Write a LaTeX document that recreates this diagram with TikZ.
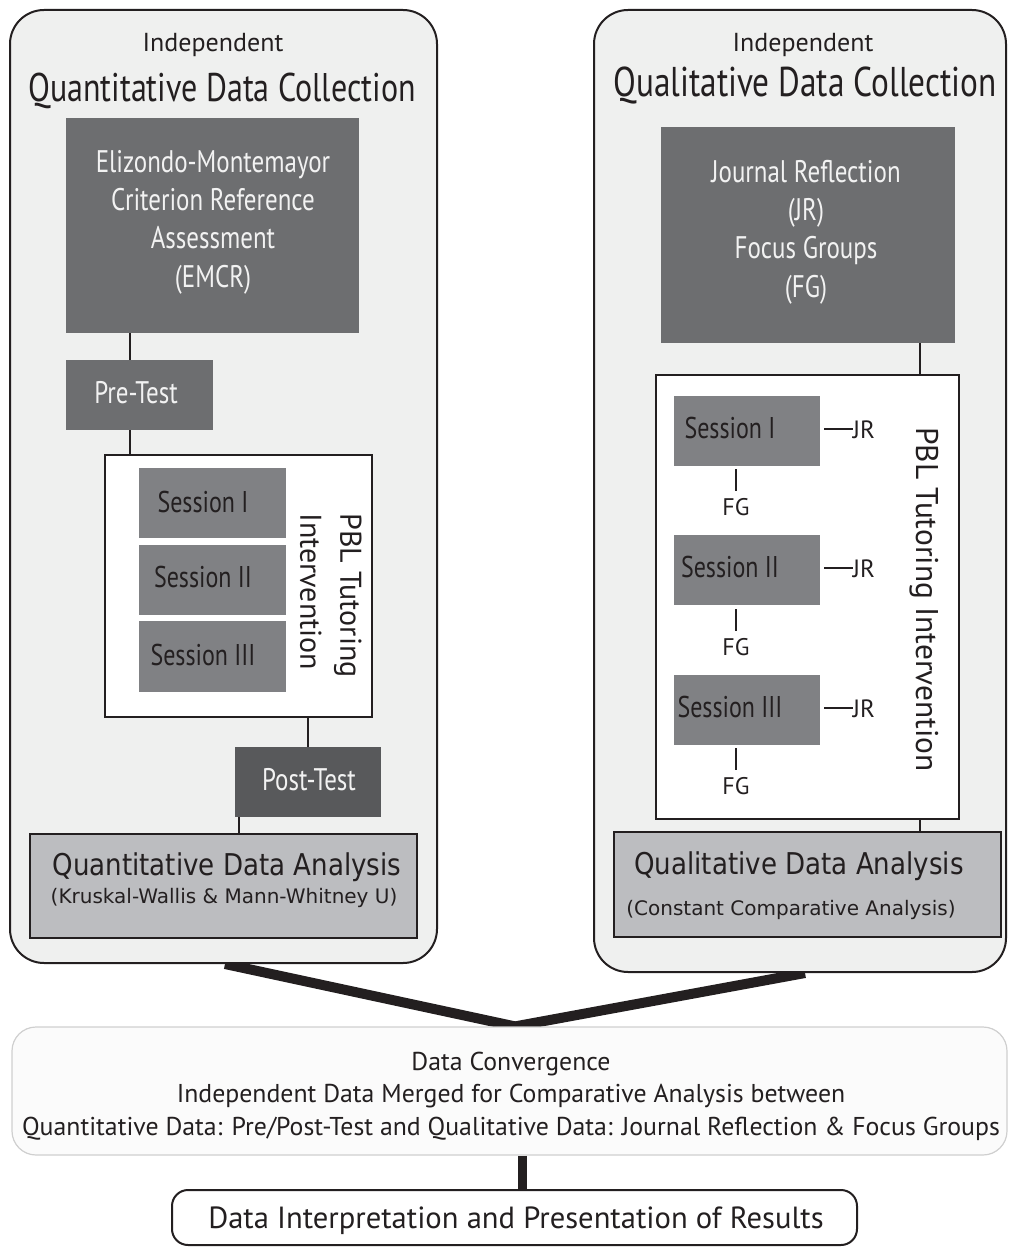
\documentclass[tikz,border=0pt]{standalone}
\usepackage{fontspec}
\setmainfont{PT Sans}
\newfontfamily\condfont[FakeStretch=0.8]{PT Sans}
\newfontfamily\widefont[FakeStretch=0.87]{DejaVu Sans}
\newfontfamily\plainwide{DejaVu Sans}
\usetikzlibrary{backgrounds}

\definecolor{ink}{HTML}{231F20}
\definecolor{panelfill}{HTML}{EFF0EF}
\definecolor{slate}{HTML}{6D6E70}
\definecolor{charcoal}{HTML}{58595B}
\definecolor{sessiongray}{HTML}{808184}
\definecolor{resultgray}{HTML}{BCBDC0}
\definecolor{paper}{HTML}{F2F2F2}
\definecolor{mist}{HTML}{FBFBFB}
\definecolor{rim}{HTML}{CFCFCF}

\begin{document}
\begin{tikzpicture}[x=0.5pt,y=-0.5pt,
  panel/.style={draw=ink,line width=1pt,fill=panelfill,rounded corners=17pt,inner sep=0},
  fillbox/.style={fill=#1,draw=none,inner sep=0},
  pblframe/.style={draw=ink,line width=1pt,fill=white,inner sep=0},
  resultbox/.style={draw=ink,line width=1pt,fill=resultgray,inner sep=0},
  lighttext/.style={text=paper,font=\condfont\fontsize{15.6}{19.2}\selectfont,align=center,inner sep=0},
  sesstext/.style={text=ink,font=\condfont\fontsize{15}{18}\selectfont,inner sep=0,anchor=base},
  tagtext/.style={text=ink,font=\fontsize{12.5}{15}\selectfont,inner sep=0,anchor=base},
  headsmall/.style={text=ink,font=\fontsize{13}{15}\selectfont,inner sep=0,anchor=base},
  headbig/.style={text=ink,font=\condfont\fontsize{20}{24}\selectfont,inner sep=0,anchor=base},
  restitle/.style={text=ink,font=\widefont\fontsize{15}{18}\selectfont,inner sep=0,anchor=base},
  ressub/.style={text=ink,font=\plainwide\fontsize{10}{12}\selectfont,inner sep=0,anchor=base},
  link/.style={draw=ink,line width=1pt},
  heavy/.style={draw=ink,line width=5pt},
]
\useasboundingbox (0,0) rectangle (1008,1247);

% ---------- quantitative strand ----------
\node[panel,minimum width=213.5pt,minimum height=476.5pt] (qnpanel) at (223.5,486.5) {};
\node[headsmall] (qnind) at (213,52) {Independent};
\node[headbig] (qntitle) at (222,102) {Quantitative Data Collection};

\node[fillbox=slate,minimum width=146.5pt,minimum height=107.5pt] (emcr) at (212.5,225.5) {};
\node[lighttext] (emcrtext) at (213,222) {Elizondo-Montemayor\\Criterion Reference\\Assessment\\(EMCR)};

\node[fillbox=slate,minimum width=73.5pt,minimum height=35pt] (pre) at (139.5,395) {};
\node[lighttext,anchor=base] (pretext) at (136,403) {Pre-Test};

\node[pblframe,minimum width=133.5pt,minimum height=131pt] (lpbl) at (238.5,586) {};
\node[fillbox=sessiongray,minimum width=73.5pt,minimum height=35pt] (ls1) at (212.5,503) {};
\node[fillbox=sessiongray,minimum width=73.5pt,minimum height=35pt] (ls2) at (212.5,579.5) {};
\node[fillbox=sessiongray,minimum width=73.5pt,minimum height=35.5pt] (ls3) at (212.5,656.5) {};
\node[sesstext] (ls1t) at (203,512) {Session I};
\node[sesstext] (ls2t) at (203,587) {Session II};
\node[sesstext] (ls3t) at (203,665) {Session III};
\node[text=ink,font=\fontsize{15}{20}\selectfont,align=left,rotate=-90,anchor=north west,inner sep=0]
  (lpbltext) at (362,513) {PBL Tutoring\\Intervention};

\node[fillbox=charcoal,minimum width=73pt,minimum height=35pt] (post) at (308,782) {};
\node[lighttext,anchor=base] (posttext) at (309,790) {Post-Test};

\node[resultbox,minimum width=193.5pt,minimum height=52pt] (qnres) at (223.5,886) {};
\node[restitle] (qnrestitle) at (227,875) {Quantitative Data Analysis};
\node[ressub] (qnressub) at (224,903) {(Kruskal-Wallis \& Mann-Whitney U)};

\coordinate (lxa) at (130,0);
\coordinate (lxb) at (239,0);
\draw[link] (emcr.south -| lxa) -- (pre.north -| lxa);
\draw[link] (pre.south -| lxa) -- (lpbl.north -| lxa);
\draw[link] (lpbl.south -| post) -- (post.north);
\draw[link] (post.south -| lxb) -- (qnres.north -| lxb);

% ---------- qualitative strand ----------
\node[panel,minimum width=206pt,minimum height=481pt] (qlpanel) at (800,491) {};
\node[headsmall] (qlind) at (803,52) {Independent};
\node[headbig,font=\condfont\fontsize{20.8}{24}\selectfont] (qltitle) at (805,97) {Qualitative Data Collection};

\node[fillbox=slate,minimum width=147pt,minimum height=108pt] (jrfg) at (808,235) {};
\node[lighttext] (jrfgtext) at (806,232) {Journal Reflection\\(JR)\\Focus Groups\\(FG)};

\node[pblframe,minimum width=151.5pt,minimum height=222pt] (rpbl) at (807.5,597) {};
\node[fillbox=sessiongray,minimum width=73pt,minimum height=35pt] (rs1) at (747,431) {};
\node[fillbox=sessiongray,minimum width=73pt,minimum height=35pt] (rs2) at (747,570) {};
\node[fillbox=sessiongray,minimum width=73pt,minimum height=35pt] (rs3) at (747,710) {};
\node[sesstext] (rs1t) at (730,438) {Session I};
\node[sesstext] (rs2t) at (730,577) {Session II};
\node[sesstext] (rs3t) at (730,717) {Session III};

\node[tagtext] (jr1) at (864,438) {JR};
\node[tagtext] (jr2) at (864,577) {JR};
\node[tagtext] (jr3) at (864,717) {JR};
\node[tagtext,font=\fontsize{12}{14}\selectfont] (fg1) at (736,515) {FG};
\node[tagtext,font=\fontsize{12}{14}\selectfont] (fg2) at (736,655) {FG};
\node[tagtext,font=\fontsize{12}{14}\selectfont] (fg3) at (736,794) {FG};
\foreach \k in {1,2,3}{
  \draw[link] (jr\k.west) -- ++(-14.5pt,0);
  \draw[link] ([yshift=3.5pt]fg\k.north) -- ++(0,-22);
}
\node[text=ink,font=\fontsize{15.7}{20}\selectfont,rotate=-90,anchor=base west,inner sep=0]
  (rpbltext) at (916,427) {PBL Tutoring Intervention};

\node[resultbox,minimum width=193.5pt,minimum height=52.5pt] (qlres) at (807.5,884.5) {};
\node[restitle] (qlrestitle) at (799,874) {Qualitative Data Analysis};
\node[ressub] (qlressub) at (791,915) {(Constant Comparative Analysis)};

\coordinate (rxa) at (920,0);
\draw[link] (jrfg.south -| rxa) -- (rpbl.north -| rxa);
\draw[link] (rpbl.south -| rxa) -- (qlres.north -| rxa);

% ---------- convergence and results ----------
\node[draw=rim,line width=0.6pt,fill=mist,rounded corners=12pt,minimum width=497.5pt,minimum height=64pt,inner sep=0]
  (conv) at (509.5,1091) {};
\node[text=ink,font=\fontsize{12.9}{16.25}\selectfont,align=center,inner sep=0] (convtext) at (511,1096)
  {Data Convergence\\Independent Data Merged for Comparative Analysis between\\Quantitative Data: Pre/Post-Test and Qualitative Data: Journal Reflection \& Focus Groups};

\node[draw=ink,line width=1pt,fill=white,rounded corners=8pt,minimum width=342.5pt,minimum height=27.5pt,inner sep=0]
  (final) at (514.5,1217.5) {};
\node[text=ink,font=\fontsize{15.3}{18}\selectfont,anchor=base,inner sep=0] (finaltext) at (516,1228)
  {Data Interpretation and Presentation of Results};

\coordinate (lh) at (225,0);
\coordinate (rh) at (805,0);
\coordinate (cv) at (515,0);
\coordinate (vx) at (522,0);
\begin{scope}[on background layer]
  \draw[heavy] (qnpanel.south -| lh) -- (conv.north -| cv) -- (qlpanel.south -| rh);
  \draw[heavy,line width=4.5pt] (conv.south -| vx) -- (final.north -| vx);
\end{scope}
\end{tikzpicture}
\end{document}
